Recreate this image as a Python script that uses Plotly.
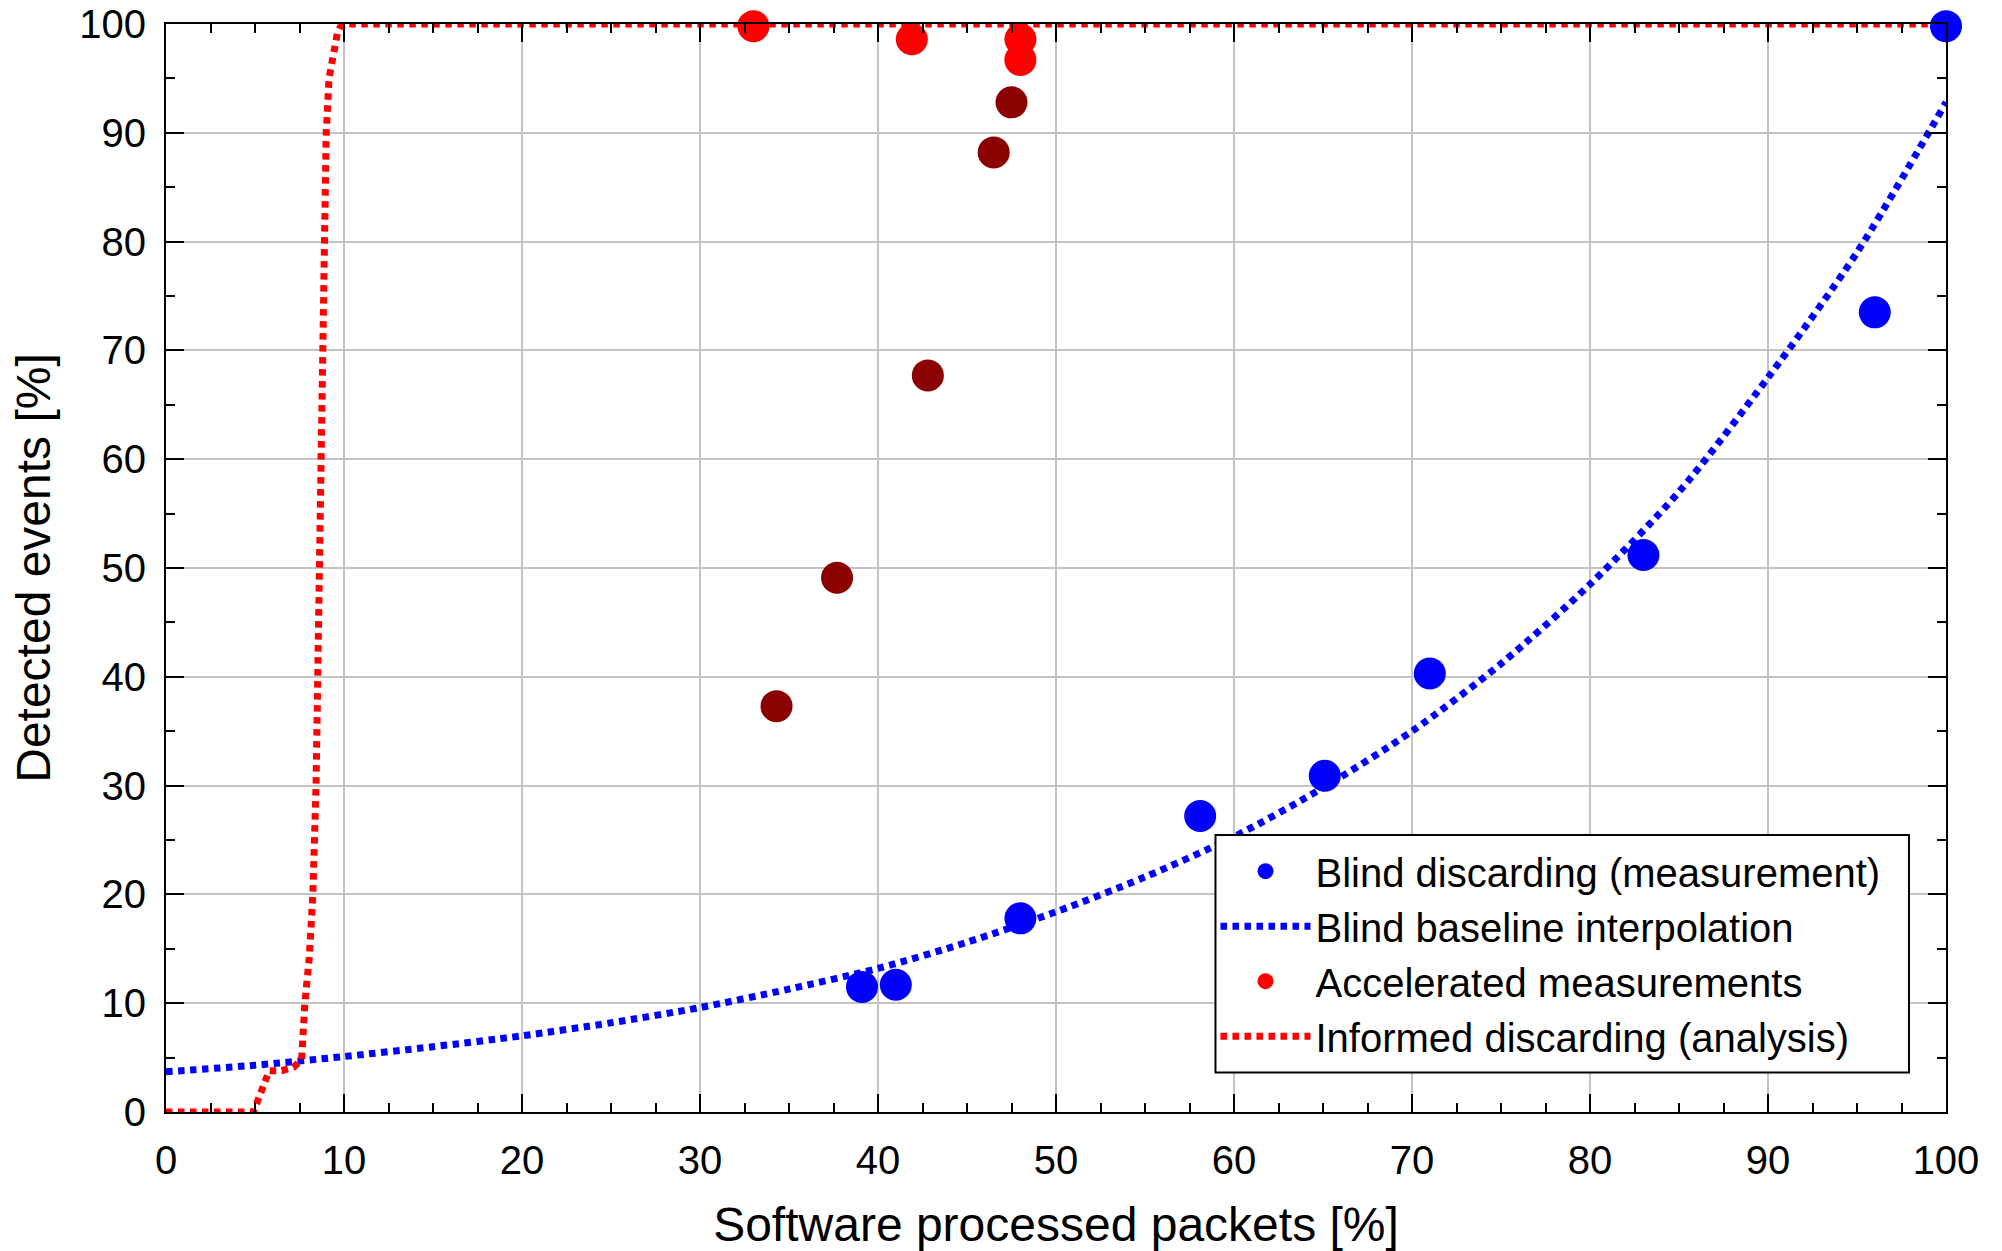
import plotly.graph_objects as go

# Blind discarding: measured points
blind_x = [39.1, 41.0, 48.0, 58.1, 65.1, 71.0, 83.0, 96.0, 100.0]
blind_y = [11.5, 11.7, 17.8, 27.2, 30.9, 40.3, 51.2, 73.5, 99.8]

# Baseline interpolation curve for blind discarding
base_x = [0, 5, 10, 15, 20, 25, 30, 35, 40, 45, 50, 55, 60, 65, 70, 75, 80, 85, 90, 95, 100]
base_y = [3.7, 4.3, 5.1, 6.0, 7.0, 8.2, 9.6, 11.3, 13.2, 15.6, 18.4, 21.6, 25.3, 29.8,
          35.0, 41.2, 48.5, 57.0, 67.5, 79.0, 92.8]

# Accelerated measurements (bright red = full rate, dark red = reduced)
accel_x = [33.0, 41.9, 48.0, 48.0]
accel_y = [99.8, 98.6, 98.6, 96.7]
accel_dark_x = [34.3, 37.7, 42.8, 46.5, 47.5]
accel_dark_y = [37.3, 49.1, 67.7, 88.2, 92.8]

# Informed discarding analysis curve
inf_x = [0, 4.9, 5.1, 5.5, 5.8, 6.5, 7.15, 7.62, 7.8, 8.05, 8.25, 8.43, 8.52, 8.63,
         8.72, 8.8, 8.9, 9.0, 9.16, 9.4, 9.62, 9.78, 10.06, 100]
inf_y = [0, 0, 0.8, 2.6, 3.8, 3.8, 4.1, 4.8, 10, 14.2, 20, 30, 40, 50,
         60, 70, 80, 90, 95, 97.3, 99.1, 99.7, 100, 100]

x_ticks = list(range(0, 101, 10))
y_ticks = list(range(0, 101, 10))

FONT = "Arial, Liberation Sans, Helvetica, sans-serif"
BLUE = "#0000FF"
RED = "#FF0000"
DARK_RED = "#8B0000"
DOTS = "6.5px,5.5px"

fig = go.Figure()

fig.add_trace(go.Scatter(
    x=base_x, y=base_y, mode="lines", name="Blind baseline interpolation",
    line=dict(color=BLUE, width=7, dash=DOTS, shape="spline", smoothing=0.8),
    legendrank=2,
))
fig.add_trace(go.Scatter(
    x=inf_x, y=inf_y, mode="lines", name="Informed discarding (analysis)",
    line=dict(color=RED, width=7, dash=DOTS),
    legendrank=4,
))
fig.add_trace(go.Scatter(
    x=blind_x, y=blind_y, mode="markers", name="Blind discarding (measurement)",
    marker=dict(color=BLUE, size=32, line=dict(width=0)),
    cliponaxis=False, legendrank=1,
))
fig.add_trace(go.Scatter(
    x=accel_dark_x, y=accel_dark_y, mode="markers", name="Accelerated (reduced)",
    marker=dict(color=DARK_RED, size=32, line=dict(width=0)),
    cliponaxis=False, showlegend=False,
))
fig.add_trace(go.Scatter(
    x=accel_x, y=accel_y, mode="markers", name="Accelerated measurements",
    marker=dict(color=RED, size=32, line=dict(width=0)),
    cliponaxis=False, legendrank=3,
))

axis_common = dict(
    showline=True, linecolor="black", linewidth=2, mirror="ticks",
    ticks="inside", ticklen=18, tickwidth=2, tickcolor="black",
    showgrid=True, gridcolor="#c4c4c4", gridwidth=2,
    zeroline=False,
    tickfont=dict(family=FONT, size=40, color="black"),
)

fig.update_xaxes(
    range=[0, 100], tickvals=x_ticks, ticktext=[str(v) for v in x_ticks],
    minor=dict(dtick=2.5, ticks="inside", ticklen=9, tickwidth=2, tickcolor="black", showgrid=False),
    title=dict(text="Software processed packets [%]", font=dict(family=FONT, size=48, color="black"),
               standoff=26),
    ticklabelstandoff=12,
    **axis_common,
)
fig.update_yaxes(
    range=[0, 100], tickvals=y_ticks, ticktext=[str(v) for v in y_ticks],
    minor=dict(dtick=5, ticks="inside", ticklen=9, tickwidth=2, tickcolor="black", showgrid=False),
    title=dict(text="Detected events [%]", font=dict(family=FONT, size=48, color="black"),
               standoff=13),
    ticklabelstandoff=10,
    **axis_common,
)

# Legend frame: white box with a black border, drawn above the data
fig.add_shape(
    type="rect", xref="paper", yref="paper",
    x0=0.5896, x1=0.9792, y0=0.0363, y1=0.2546,
    fillcolor="white", line=dict(color="black", width=2), layer="above",
)

fig.update_layout(
    width=2002, height=1251,
    margin=dict(l=166, r=56, t=24, b=139, autoexpand=False),
    paper_bgcolor="white", plot_bgcolor="white",
    font=dict(family=FONT, color="black"),
    showlegend=True,
    legend=dict(
        x=0.5896, y=0.1455, xanchor="left", yanchor="middle",
        bgcolor="rgba(0,0,0,0)", borderwidth=0,
        font=dict(family=FONT, size=40, color="black"),
        itemwidth=90, tracegroupgap=0,
        traceorder="normal",
    ),
)

fig.write_html("out.html")
